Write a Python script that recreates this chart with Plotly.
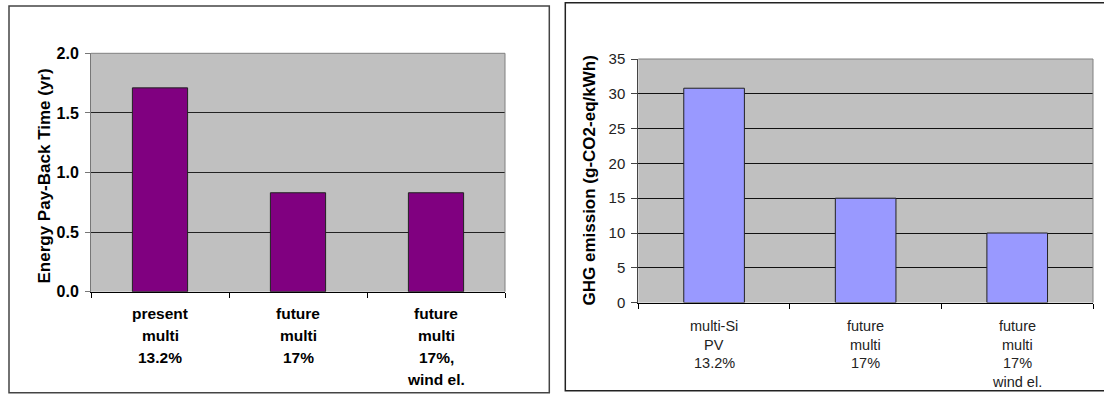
import plotly.graph_objects as go

W, H = 1104, 394

# ---- data ----
left_categories = ["present multi 13.2%", "future multi 17%", "future multi 17%, wind el."]
left_label_lines = [["present", "multi", "13.2%"],
                    ["future", "multi", "17%"],
                    ["future", "multi", "17%,", "wind el."]]
left_values = [1.71, 0.83, 0.83]
left_ytitle = "Energy Pay-Back Time (yr)"

right_categories = ["multi-Si PV 13.2%", "future multi 17%", "future multi 17% wind el."]
right_label_lines = [["multi-Si", "PV", "13.2%"],
                     ["future", "multi", "17%"],
                     ["future", "multi", "17%", "wind el."]]
right_values = [30.8, 15.0, 10.0]
right_ytitle = "GHG emission (g-CO2-eq/kWh)"

FONT = "Liberation Sans, Arial, sans-serif"

fig = go.Figure()
fig.add_trace(go.Bar(x=left_categories, y=left_values, width=0.4,
                     marker=dict(color="#800080", line=dict(color="#222222", width=1)),
                     xaxis="x", yaxis="y", showlegend=False, hoverinfo="skip"))
fig.add_trace(go.Bar(x=right_categories, y=right_values, width=0.4,
                     marker=dict(color="#9999FF", line=dict(color="#222222", width=1)),
                     xaxis="x2", yaxis="y2", showlegend=False, hoverinfo="skip"))

def px_x(v):
    return v / W

def px_y(v):
    return 1 - v / H

xcommon = dict(type="category", range=[-0.5, 2.5], showline=True, linecolor="black",
               linewidth=1, ticks="outside", tickson="boundaries", ticklen=5,
               tickcolor="black", showticklabels=False, showgrid=False, zeroline=False,
               fixedrange=True, automargin=False)

fig.update_layout(
    template="none",
    width=W, height=H, margin=dict(l=0, r=0, t=0, b=0, pad=0, autoexpand=False),
    paper_bgcolor="white", plot_bgcolor="#C0C0C0",
    font=dict(family=FONT, color="black"),
    xaxis=dict(domain=[px_x(91), px_x(505)], anchor="y", **xcommon),
    yaxis=dict(domain=[px_y(291.7), px_y(53.3)], anchor="x", range=[0, 2.0], dtick=0.5,
               tickformat=".1f", showgrid=True, gridcolor="#222222", gridwidth=1,
               zeroline=False, showline=True, linecolor="#777777", linewidth=1,
               ticks="outside", ticklen=5, tickcolor="#777777",
               tickfont=dict(family=FONT, size=16, color="black", weight="bold"),
               ticklabelstandoff=3, fixedrange=True, automargin=False),
    xaxis2=dict(domain=[px_x(638.3), px_x(1093)], anchor="y2", **xcommon),
    yaxis2=dict(domain=[px_y(302.6), px_y(59)], anchor="x2", range=[0, 35], dtick=5,
                showgrid=True, gridcolor="#111111", gridwidth=1,
                zeroline=False, showline=True, linecolor="#444444", linewidth=1,
                ticks="outside", ticklen=6, tickcolor="#444444",
                tickfont=dict(family=FONT, size=15, color="#222222"),
                ticklabelstandoff=3, fixedrange=True, automargin=False),
)

annotations = []
# y-axis titles
annotations.append(dict(text=left_ytitle, x=px_x(43.5), y=px_y(176), xref="paper", yref="paper",
                        textangle=-90, showarrow=False, xanchor="center", yanchor="middle",
                        font=dict(family=FONT, size=17, color="black", weight="bold")))
annotations.append(dict(text=right_ytitle, x=px_x(589), y=px_y(180.5), xref="paper", yref="paper",
                        textangle=-90, showarrow=False, xanchor="center", yanchor="middle",
                        font=dict(family=FONT, size=17, color="black", weight="bold")))
# category labels
for cat, lines in zip(left_categories, left_label_lines):
    for j, line in enumerate(lines):
        annotations.append(dict(text=line, x=cat, xref="x", y=px_y(313.3 + 22.2 * j), yref="paper",
                                showarrow=False, xanchor="center", yanchor="middle",
                                font=dict(family=FONT, size=15.5, color="black", weight="bold")))
for cat, lines in zip(right_categories, right_label_lines):
    for j, line in enumerate(lines):
        annotations.append(dict(text=line, x=cat, xref="x2", y=px_y(326 + 18.5 * j), yref="paper",
                                showarrow=False, xanchor="center", yanchor="middle",
                                font=dict(family=FONT, size=14.5, color="#222222")))
fig.update_layout(annotations=annotations)

shapes = [
    # plot-area top/right borders
    dict(type="line", xref="x domain", yref="y domain", x0=0, x1=1, y0=1, y1=1,
         line=dict(color="#808080", width=1)),
    dict(type="line", xref="x domain", yref="y domain", x0=1, x1=1, y0=0, y1=1,
         line=dict(color="#808080", width=1)),
    dict(type="line", xref="x2 domain", yref="y2 domain", x0=0, x1=1, y0=1, y1=1,
         line=dict(color="#808080", width=1)),
    dict(type="line", xref="x2 domain", yref="y2 domain", x0=1, x1=1, y0=0, y1=1,
         line=dict(color="#808080", width=1)),
    # panel frames
    dict(type="rect", xref="paper", yref="paper", x0=px_x(9), x1=px_x(549.3),
         y0=px_y(392.7), y1=px_y(6), line=dict(color="#444444", width=1.5)),
    dict(type="rect", xref="paper", yref="paper", x0=px_x(565.3), x1=px_x(1106),
         y0=px_y(390.7), y1=px_y(2.7), line=dict(color="#222222", width=1.5)),
]
fig.update_layout(shapes=shapes)

fig.write_html("out.html")
